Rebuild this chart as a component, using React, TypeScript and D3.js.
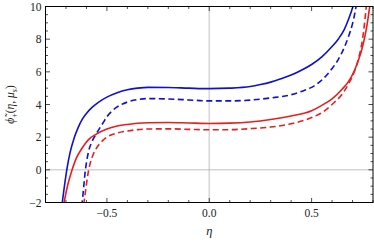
import * as d3 from "d3";

// curve samples: [eta, value]
const blueSolid: [number, number][] = [
  [-0.73, -3.2], [-0.718, -2.0], [-0.696, 0.0], [-0.68, 1.05], [-0.66, 1.95],
  [-0.64, 2.6], [-0.62, 3.1], [-0.6, 3.45], [-0.57, 3.85], [-0.54, 4.15],
  [-0.5, 4.45], [-0.45, 4.72], [-0.4, 4.9], [-0.35, 5.0], [-0.3, 5.05],
  [-0.2, 5.04], [-0.1, 5.0], [0.0, 4.97], [0.1, 5.0], [0.2, 5.1],
  [0.25, 5.22], [0.3, 5.37], [0.35, 5.57], [0.4, 5.8], [0.45, 6.1],
  [0.5, 6.45], [0.55, 6.92], [0.6, 7.55], [0.63, 8.0], [0.66, 8.6],
  [0.68, 9.2], [0.702, 10.0], [0.715, 10.6],
];
const blueDashed: [number, number][] = [
  [-0.63, -2.8], [-0.621, -2.0], [-0.605, 0.0], [-0.59, 1.1], [-0.57, 1.8],
  [-0.55, 2.25], [-0.52, 2.85], [-0.5, 3.25], [-0.475, 3.6], [-0.45, 3.85],
  [-0.4, 4.15], [-0.35, 4.3], [-0.3, 4.36], [-0.2, 4.34], [-0.1, 4.28],
  [0.0, 4.22], [0.1, 4.22], [0.2, 4.27], [0.3, 4.4], [0.4, 4.6],
  [0.45, 4.8], [0.5, 5.05], [0.55, 5.5], [0.6, 6.2], [0.63, 6.75],
  [0.66, 7.5], [0.68, 8.15], [0.7, 8.95], [0.713, 9.7], [0.72, 10.2],
  [0.73, 10.9],
];
const redSolid: [number, number][] = [
  [-0.72, -2.9], [-0.709, -2.0], [-0.69, -0.85], [-0.67, 0.0], [-0.65, 0.7],
  [-0.62, 1.35], [-0.59, 1.85], [-0.55, 2.2], [-0.5, 2.5], [-0.45, 2.68],
  [-0.4, 2.78], [-0.3, 2.88], [-0.2, 2.9], [-0.1, 2.87], [0.0, 2.84],
  [0.1, 2.86], [0.2, 2.93], [0.3, 3.08], [0.4, 3.3], [0.5, 3.62],
  [0.55, 3.95], [0.6, 4.35], [0.65, 4.95], [0.68, 5.4], [0.71, 6.1],
  [0.73, 6.75], [0.75, 7.6], [0.77, 8.8], [0.784, 10.0], [0.795, 11.0],
];
const redDashed: [number, number][] = [
  [-0.62, -2.7], [-0.612, -2.0], [-0.589, 0.0], [-0.57, 0.85], [-0.55, 1.35],
  [-0.52, 1.8], [-0.5, 2.0], [-0.45, 2.25], [-0.4, 2.38], [-0.35, 2.46],
  [-0.3, 2.5], [-0.2, 2.51], [-0.1, 2.48], [0.0, 2.45], [0.1, 2.46],
  [0.2, 2.52], [0.3, 2.62], [0.4, 2.82], [0.5, 3.2], [0.55, 3.5],
  [0.6, 4.0], [0.65, 4.65], [0.68, 5.25], [0.71, 6.05], [0.73, 6.85],
  [0.75, 8.1], [0.767, 10.0], [0.775, 11.2],
];

const xMajor = [-0.5, 0, 0.5];
const xLabels = ["\u22120.5", "0.0", "0.5"];
const yMajor = [-2, 0, 2, 4, 6, 8, 10];
const yLabels = ["\u22122", "0", "2", "4", "6", "8", "10"];

const W = 374;
const H = 243;
const left = 45.5;
const right = 373;
const top = 6.5;
const bottom = 202.5;

export default function App() {
  const x = d3.scaleLinear().domain([-0.8, 0.8]).range([left, right]);
  const y = d3.scaleLinear().domain([-2, 10]).range([bottom, top]);

  const line = d3
    .line<[number, number]>()
    .x(d => x(d[0]))
    .y(d => y(d[1]))
    .curve(d3.curveMonotoneX);

  const xMinor = d3.range(-8, 9).map(i => i / 10).filter(v => !xMajor.some(m => Math.abs(m - v) < 1e-6));
  const yMinor = d3.range(-4, 21).map(i => i / 2).filter(v => !yMajor.includes(v));

  const series = [
    { data: blueSolid, color: "#1010d0", dash: undefined },
    { data: blueDashed, color: "#1010d0", dash: "6,3.5" },
    { data: redSolid, color: "#e81e1e", dash: undefined },
    { data: redDashed, color: "#e81e1e", dash: "6,3.5" },
  ];

  const font = "'Liberation Serif', 'Times New Roman', 'DejaVu Serif', serif";

  return (
    <svg width={W} height={H} style={{ position: "absolute", left: 0, top: 0 }}>
      <defs>
        <clipPath id="plot">
          <rect x={left} y={top} width={right - left} height={bottom - top} />
        </clipPath>
      </defs>
      <rect width={W} height={H} fill="#fff" />

      {/* axes through origin */}
      <line x1={x(0)} x2={x(0)} y1={top} y2={bottom} stroke="#d8d8d8" strokeWidth={1.6} />
      <line x1={left} x2={right} y1={y(0)} y2={y(0)} stroke="#b0b0b0" strokeWidth={0.8} />

      <g clipPath="url(#plot)">
        {series.map((s, i) => (
          <path
            key={i}
            d={line(s.data) || ""}
            fill="none"
            stroke={s.color}
            strokeWidth={1.6}
            strokeDasharray={s.dash}
          />
        ))}
      </g>

      {/* frame */}
      <rect x={left} y={top} width={right - left} height={bottom - top} fill="none" stroke="#000" strokeWidth={1} />

      {/* ticks */}
      <g stroke="#000" strokeWidth={0.7}>
        {xMajor.map(v => (
          <g key={"xM" + v}>
            <line x1={x(v)} x2={x(v)} y1={bottom} y2={bottom - 4.5} />
            <line x1={x(v)} x2={x(v)} y1={top} y2={top + 4.5} />
          </g>
        ))}
        {xMinor.map(v => (
          <g key={"xm" + v}>
            <line x1={x(v)} x2={x(v)} y1={bottom} y2={bottom - 2.5} />
            <line x1={x(v)} x2={x(v)} y1={top} y2={top + 2.5} />
          </g>
        ))}
        {yMajor.map(v => (
          <g key={"yM" + v}>
            <line x1={left} x2={left + 4.5} y1={y(v)} y2={y(v)} />
            <line x1={right} x2={right - 4.5} y1={y(v)} y2={y(v)} />
          </g>
        ))}
        {yMinor.map(v => (
          <g key={"ym" + v}>
            <line x1={left} x2={left + 2.5} y1={y(v)} y2={y(v)} />
            <line x1={right} x2={right - 2.5} y1={y(v)} y2={y(v)} />
          </g>
        ))}
      </g>

      {/* tick labels */}
      <g fontFamily={font} fontSize={11.5} fill="#222">
        {xMajor.map((v, i) => (
          <text key={"xl" + v} x={x(v)} y={bottom + 14} textAnchor="middle">
            {xLabels[i]}
          </text>
        ))}
        {yMajor.map((v, i) => (
          <text key={"yl" + v} x={left - 4} y={y(v) + 4} textAnchor="end">
            {yLabels[i]}
          </text>
        ))}
      </g>

      {/* axis titles */}
      <text x={x(0)} y={235} textAnchor="middle" fontFamily={font} fontSize={12.5} fontStyle="italic" fill="#222">
        η
      </text>
      <text
        transform={`translate(14, ${(top + bottom) / 2}) rotate(-90)`}
        textAnchor="middle"
        fontFamily={font}
        fontSize={11.5}
        fill="#222"
      >
        <tspan fontStyle="italic">ϕ̃</tspan>
        <tspan fontSize={8} dy={2.5}>+</tspan>
        <tspan dy={-2.5}>(</tspan>
        <tspan fontStyle="italic">η</tspan>
        <tspan>, </tspan>
        <tspan fontStyle="italic">μ</tspan>
        <tspan fontSize={8} fontStyle="italic" dy={2.5}>s</tspan>
        <tspan dy={-2.5}>)</tspan>
      </text>
    </svg>
  );
}
